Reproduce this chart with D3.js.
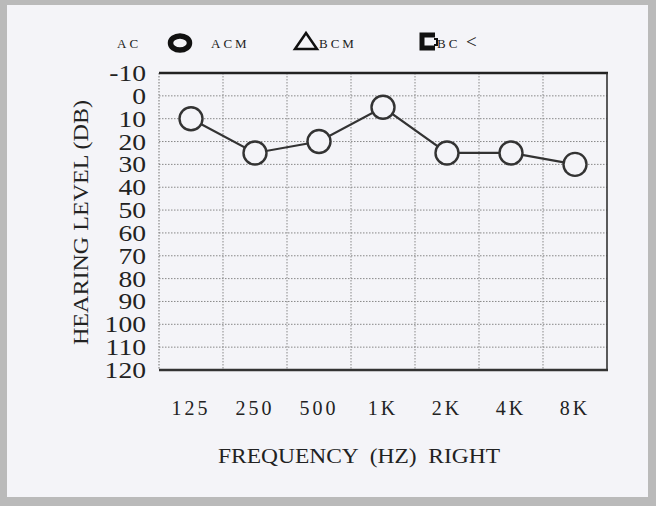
<!DOCTYPE html>
<html>
<head>
<meta charset="utf-8">
<script src="https://cdn.jsdelivr.net/npm/d3@7"></script>
<style>
  body { margin: 0; background: #bcbcbc; }
  svg { display: block; }
  text { font-family: "Liberation Serif", "Times New Roman", serif; fill: #222; }
</style>
</head>
<body>
<div id="chart"></div>
<script>
// frequencies (x categories) and right ear thresholds
var freqs = ['125', '250', '500', '1K', '2K', '4K', '8K']
var levels = [10, 25, 20, 5, 25, 25, 30]
var yTicks = [-10, 0, 10, 20, 30, 40, 50, 60, 70, 80, 90, 100, 110, 120]

var w = 656, h = 506
var svg = d3.select('#chart').append('svg').attr('width', w).attr('height', h)

// scanned frame
svg.append('rect').attr('width', w).attr('height', h).attr('fill', '#bababa')
svg.append('rect').attr('x', 7).attr('y', 5).attr('width', 641).attr('height', 492).attr('fill', '#f4f4f8')

var pLeft = 159, pRight = 607, pTop = 73, pBottom = 370

var x = d3.scaleBand().domain(freqs).range([pLeft, pRight])
var y = d3.scaleLinear().domain([-10, 120]).range([pTop, pBottom])

// dotted grid
svg.append('g').selectAll('line').data(yTicks.slice(1, -1)).enter().append('line')
  .attr('x1', pLeft).attr('x2', pRight).attr('y1', function(d){ return y(d) }).attr('y2', function(d){ return y(d) })
  .attr('stroke', '#888').attr('stroke-width', 1).attr('stroke-dasharray', '1.5,1.5')
svg.append('g').selectAll('line').data(freqs.slice(1)).enter().append('line')
  .attr('x1', function(d){ return x(d) }).attr('x2', function(d){ return x(d) })
  .attr('y1', pTop).attr('y2', pBottom)
  .attr('stroke', '#888').attr('stroke-width', 1).attr('stroke-dasharray', '1.5,1.5')
svg.append('line').attr('x1', pLeft).attr('x2', pLeft).attr('y1', pTop).attr('y2', pBottom)
  .attr('stroke', '#888').attr('stroke-width', 1.2).attr('stroke-dasharray', '1.5,1.5')

// frame lines
svg.append('line').attr('x1', pLeft).attr('x2', pRight + 1).attr('y1', pTop).attr('y2', pTop).attr('stroke', '#222').attr('stroke-width', 2.5)
svg.append('line').attr('x1', pLeft).attr('x2', pRight + 1).attr('y1', pBottom).attr('y2', pBottom).attr('stroke', '#333').attr('stroke-width', 2.5)
svg.append('line').attr('x1', pRight).attr('x2', pRight).attr('y1', pTop).attr('y2', pBottom).attr('stroke', '#333').attr('stroke-width', 1.6)

// y tick labels (a bit wide in the scan)
svg.append('g').selectAll('text').data(yTicks).enter().append('text')
  .attr('x', 146).attr('y', function(d){ return y(d) + 8 })
  .attr('text-anchor', 'end').attr('font-size', 23)
  .attr('transform', function(d){ return 'translate(146,0) scale(1.2,1) translate(-146,0)' })
  .text(function(d){ return d })

// x tick labels
svg.append('g').selectAll('text').data(freqs).enter().append('text')
  .attr('x', function(d){ return x(d) + x.bandwidth() / 2 }).attr('y', 415)
  .attr('text-anchor', 'middle').attr('font-size', 20).attr('letter-spacing', 3)
  .text(function(d){ return d })

// axis titles
svg.append('text').attr('x', 218).attr('y', 463).attr('font-size', 21)
  .attr('textLength', 282).attr('lengthAdjust', 'spacingAndGlyphs')
  .attr('xml:space', 'preserve').text('FREQUENCY  (HZ)  RIGHT')
svg.append('text').attr('transform', 'translate(88,345) rotate(-90)')
  .attr('font-size', 21).attr('textLength', 245).attr('lengthAdjust', 'spacingAndGlyphs')
  .text('HEARING LEVEL (DB)')

// line + circles
var line = d3.line().x(function(d, i){ return x(freqs[i]) + x.bandwidth() / 2 }).y(function(d){ return y(d) })
svg.append('path').datum(levels).attr('d', line).attr('fill', 'none').attr('stroke', '#333').attr('stroke-width', 2.2)
svg.append('g').selectAll('circle').data(levels).enter().append('circle')
  .attr('cx', function(d, i){ return x(freqs[i]) + x.bandwidth() / 2 }).attr('cy', function(d){ return y(d) })
  .attr('r', 11.5).attr('fill', '#f4f4f8').attr('stroke', '#333').attr('stroke-width', 2.4)

// legend
var lg = svg.append('g').attr('font-size', 13).attr('letter-spacing', 3)
lg.append('text').attr('x', 117).attr('y', 48).text('AC')
lg.append('ellipse').attr('cx', 180).attr('cy', 43).attr('rx', 9.5).attr('ry', 7).attr('fill', 'none').attr('stroke', '#111').attr('stroke-width', 5.5)
lg.append('text').attr('x', 211).attr('y', 48).text('ACM')
lg.append('path').attr('d', 'M306,33 L317,49 L295,49 Z').attr('fill', 'none').attr('stroke', '#111').attr('stroke-width', 2.5)
lg.append('text').attr('x', 319).attr('y', 48).text('BCM')
lg.append('path').attr('d', 'M435,35 L422,35 L422,48 L435,48').attr('fill', 'none').attr('stroke', '#111').attr('stroke-width', 5)
lg.append('path').attr('d', 'M434,39 L437,39 L437,45 L434,45').attr('fill', 'none').attr('stroke', '#111').attr('stroke-width', 2)
lg.append('text').attr('x', 437).attr('y', 48).text('BC')
lg.append('text').attr('x', 466).attr('y', 48).attr('font-size', 19).text('<')
</script>
</body>
</html>
